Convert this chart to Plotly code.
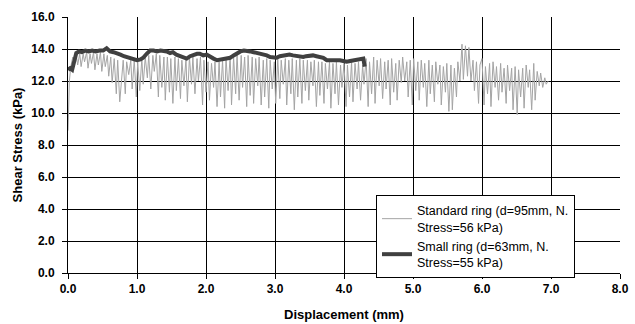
import plotly.graph_objects as go

# Standard ring (d=95mm), gray noisy series
std_x = [
    0.00, 0.02, 0.04, 0.07, 0.09, 0.12, 0.14, 0.17, 0.19, 0.22,
    0.24, 0.27, 0.29, 0.32, 0.34, 0.37, 0.39, 0.42, 0.44, 0.47,
    0.49, 0.52, 0.54, 0.57, 0.59, 0.62, 0.64, 0.67, 0.70, 0.72,
    0.75, 0.77, 0.80, 0.83, 0.85, 0.88, 0.91, 0.93, 0.96, 0.99,
    1.01, 1.04, 1.07, 1.09, 1.12, 1.15, 1.17, 1.20, 1.23, 1.25,
    1.28, 1.31, 1.33, 1.36, 1.39, 1.41, 1.44, 1.47, 1.49, 1.52,
    1.55, 1.57, 1.60, 1.63, 1.65, 1.68, 1.71, 1.73, 1.76, 1.79,
    1.81, 1.84, 1.87, 1.89, 1.92, 1.95, 1.97, 2.00, 2.03, 2.05,
    2.08, 2.11, 2.13, 2.16, 2.19, 2.21, 2.24, 2.27, 2.29, 2.32,
    2.35, 2.37, 2.40, 2.43, 2.45, 2.48, 2.51, 2.53, 2.56, 2.59,
    2.61, 2.64, 2.67, 2.69, 2.72, 2.75, 2.77, 2.80, 2.83, 2.85,
    2.88, 2.91, 2.93, 2.96, 2.99, 3.01, 3.04, 3.07, 3.09, 3.12,
    3.15, 3.17, 3.20, 3.23, 3.25, 3.28, 3.31, 3.33, 3.36, 3.39,
    3.41, 3.44, 3.47, 3.49, 3.52, 3.55, 3.57, 3.60, 3.63, 3.65,
    3.68, 3.71, 3.73, 3.76, 3.79, 3.81, 3.84, 3.87, 3.89, 3.92,
    3.95, 3.97, 4.00, 4.03, 4.05, 4.08, 4.11, 4.13, 4.16, 4.19,
    4.21, 4.24, 4.27, 4.29, 4.32, 4.35, 4.37, 4.40, 4.43, 4.45,
    4.48, 4.51, 4.53, 4.56, 4.59, 4.61, 4.64, 4.67, 4.69, 4.72,
    4.75, 4.77, 4.80, 4.83, 4.85, 4.88, 4.91, 4.93, 4.96, 4.99,
    5.01, 5.04, 5.07, 5.09, 5.12, 5.15, 5.17, 5.20, 5.23, 5.25,
    5.28, 5.31, 5.33, 5.36, 5.39, 5.41, 5.44, 5.47, 5.49, 5.52,
    5.55, 5.57, 5.60, 5.63, 5.65, 5.68, 5.71, 5.73, 5.76, 5.79,
    5.81, 5.84, 5.87, 5.89, 5.92, 5.95, 5.97, 6.00, 6.03, 6.05,
    6.08, 6.11, 6.13, 6.16, 6.19, 6.21, 6.24, 6.27, 6.29, 6.32,
    6.35, 6.37, 6.40, 6.43, 6.45, 6.48, 6.51, 6.53, 6.56, 6.59,
    6.61, 6.64, 6.67, 6.69, 6.72, 6.75, 6.77, 6.80, 6.83, 6.85,
    6.88, 6.91, 6.93, 6.96,
]
std_y = [
    8.9, 12.0, 12.9, 13.5, 13.1, 13.6, 13.0, 13.7, 12.9, 13.7,
    13.2, 13.8, 12.8, 13.7, 13.1, 13.8, 12.7, 13.7, 13.0, 13.8,
    12.6, 13.7, 12.9, 13.6, 12.3, 13.5, 11.9, 13.4, 11.2, 13.3,
    10.7, 11.6, 13.3, 11.2, 13.2, 12.4, 13.3, 11.5, 13.3, 11.0,
    13.2, 11.4, 13.4, 11.8, 13.5, 12.2, 13.6, 11.5, 13.6, 12.6,
    13.7, 11.0, 13.6, 11.6, 13.5, 10.8, 13.5, 11.3, 13.4, 10.6,
    13.5, 11.4, 13.4, 10.9, 13.3, 11.7, 13.4, 10.7, 13.5, 11.8,
    13.5, 11.2, 13.4, 12.0, 13.5, 10.5, 13.3, 11.3, 13.2, 10.8,
    13.1, 11.6, 13.2, 10.4, 13.2, 11.0, 13.3, 10.3, 13.5, 11.4,
    13.6, 10.5, 13.5, 11.2, 13.7, 10.8, 13.6, 11.6, 13.5, 10.4,
    13.6, 11.1, 13.5, 10.6, 13.4, 11.7, 13.5, 10.5, 13.3, 11.0,
    13.4, 10.3, 13.3, 11.5, 13.2, 10.6, 13.4, 10.9, 13.3, 11.8,
    13.4, 10.5, 13.3, 11.2, 13.4, 10.2, 13.3, 11.0, 13.4, 10.6,
    13.3, 11.4, 13.3, 10.8, 13.2, 11.7, 13.3, 10.4, 13.2, 11.1,
    13.2, 10.6, 13.1, 11.5, 13.2, 10.3, 13.1, 11.2, 13.2, 10.5,
    13.0, 11.6, 13.1, 10.4, 13.0, 11.0, 13.2, 10.7, 13.1, 11.5,
    13.2, 10.8, 13.0, 11.8, 13.4, 10.4, 13.2, 11.2, 13.5, 10.6,
    13.3, 11.7, 13.4, 10.9, 13.2, 11.5, 13.3, 10.5, 13.4, 11.3,
    13.1, 10.8, 13.3, 11.9, 13.5, 12.0, 13.2, 11.0, 13.3, 10.5,
    13.4, 11.4, 13.2, 10.8, 13.3, 11.6, 13.1, 10.4, 13.3, 11.2,
    13.0, 10.7, 13.2, 11.8, 13.0, 10.5, 12.9, 11.3, 13.1, 10.1,
    13.0, 10.2, 12.8, 11.0, 13.2, 12.0, 14.3, 12.1, 14.2, 12.3,
    14.1, 12.0, 13.3, 11.4, 13.2, 10.6, 13.0, 13.4, 10.5, 12.9,
    11.2, 13.1, 10.4, 13.2, 11.6, 12.9, 10.8, 13.1, 11.3, 12.8,
    10.6, 13.0, 11.4, 12.8, 10.2, 12.9, 9.9, 12.7, 11.0, 12.8,
    10.3, 13.0, 11.6, 12.7, 10.2, 13.1, 10.8, 12.6, 11.7, 12.5,
    11.6, 12.2, 11.8, 12.0,
]

# Small ring (d=63mm), dark thick series
small_x = [
    0.00, 0.03, 0.06, 0.09, 0.12, 0.16, 0.20, 0.25, 0.30, 0.35,
    0.40, 0.46, 0.51, 0.56, 0.61, 0.66, 0.71, 0.76, 0.81, 0.85,
    0.90, 0.95, 1.00, 1.05, 1.09, 1.14, 1.19, 1.24, 1.29, 1.34,
    1.38, 1.43, 1.48, 1.52, 1.57, 1.62, 1.67, 1.72, 1.77, 1.82,
    1.87, 1.91, 1.96, 2.01, 2.06, 2.11, 2.16, 2.21, 2.26, 2.31,
    2.35, 2.40, 2.45, 2.50, 2.55, 2.60, 2.64, 2.69, 2.74, 2.79,
    2.84, 2.88, 2.93, 2.98, 3.02, 3.07, 3.12, 3.17, 3.21, 3.26,
    3.31, 3.36, 3.41, 3.45, 3.50, 3.55, 3.60, 3.65, 3.70, 3.75,
    3.80, 3.84, 3.89, 3.94, 3.99, 4.04, 4.09, 4.14, 4.19, 4.24,
    4.28, 4.30,
]
small_y = [
    12.7, 12.8, 12.7, 13.3, 13.75, 13.85, 13.8, 13.9, 13.85, 13.9,
    13.85, 13.9, 13.9, 14.05, 13.85, 13.8, 13.75, 13.65, 13.55, 13.5,
    13.4, 13.35, 13.3, 13.35, 13.45, 13.7, 13.9, 13.9, 13.85, 13.9,
    13.9, 13.85, 13.75, 13.8, 13.65, 13.55, 13.45, 13.4, 13.55, 13.65,
    13.7, 13.7, 13.6, 13.65, 13.5, 13.4, 13.3, 13.35, 13.4, 13.4,
    13.45, 13.6, 13.75, 13.85, 13.9, 13.9, 13.85, 13.8, 13.75, 13.7,
    13.7, 13.6, 13.5, 13.5, 13.45, 13.55, 13.6, 13.6, 13.65, 13.6,
    13.55, 13.5, 13.5, 13.55, 13.6, 13.6, 13.55, 13.5, 13.45, 13.3,
    13.3, 13.3, 13.35, 13.3, 13.25, 13.2, 13.25, 13.3, 13.3, 13.35,
    13.4, 12.9,
]

x_ticks = [0, 1, 2, 3, 4, 5, 6, 7, 8]
y_ticks = [0, 2, 4, 6, 8, 10, 12, 14, 16]

FONT = "Liberation Sans, Arial, sans-serif"

fig = go.Figure()
fig.add_trace(go.Scatter(
    x=std_x, y=std_y, mode="lines",
    line=dict(color="#a4a4a4", width=1),
    name="Standard ring (d=95mm, N.<br>Stress=56 kPa)",
))
fig.add_trace(go.Scatter(
    x=small_x, y=small_y, mode="lines",
    line=dict(color="#404040", width=4),
    name="Small ring (d=63mm, N.<br>Stress=55 kPa)",
))

fig.update_layout(
    width=635, height=324,
    margin=dict(l=68, r=15, t=17, b=51),
    paper_bgcolor="white", plot_bgcolor="white",
    font=dict(family=FONT, size=12, color="black"),
    showlegend=True,
    legend=dict(
        x=0.558, y=0.305, xanchor="left", yanchor="top",
        bgcolor="white", bordercolor="black", borderwidth=1,
        font=dict(family=FONT, size=12.5, color="black"),
        tracegroupgap=0,
    ),
    xaxis=dict(
        range=[0, 8], tickvals=x_ticks,
        ticktext=[f"{v:.1f}" for v in x_ticks],
        showgrid=True, gridcolor="black", gridwidth=1,
        showline=True, linecolor="black", linewidth=1,
        ticks="outside", ticklen=5, tickcolor="black",
        zeroline=False, automargin=False,
        tickfont=dict(family=FONT, size=12, color="black", weight="bold"),
        title=dict(text="<b>Displacement (mm)</b>", standoff=14,
                   font=dict(family=FONT, size=13, color="black")),
    ),
    yaxis=dict(
        range=[0, 16], tickvals=y_ticks,
        ticktext=[f"{v:.1f}" for v in y_ticks],
        showgrid=True, gridcolor="black", gridwidth=1,
        showline=True, linecolor="black", linewidth=1,
        ticks="outside", ticklen=5, tickcolor="black",
        ticklabelstandoff=5,
        zeroline=False, automargin=False,
        tickfont=dict(family=FONT, size=12, color="black", weight="bold"),
        title=dict(text="<b>Shear Stress (kPa)</b>", standoff=5,
                   font=dict(family=FONT, size=13, color="black")),
    ),
)

fig.write_html("out.html")
